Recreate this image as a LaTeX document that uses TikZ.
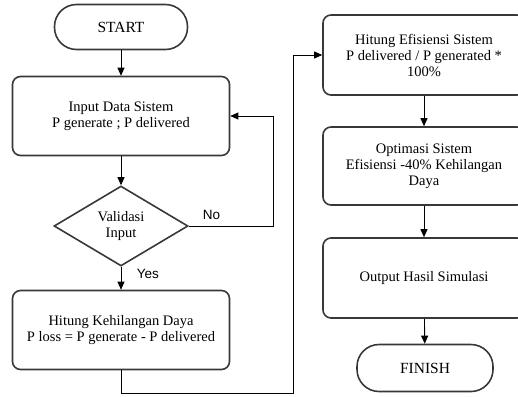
\documentclass[tikz,border=0pt]{standalone}
\usepackage{fontspec}
\setmainfont{Liberation Serif}
\newfontfamily\labelfont{Liberation Sans}
\usetikzlibrary{shapes.geometric,arrows.meta}

\begin{document}
\begin{tikzpicture}[x=1pt,y=-1pt,
    proses/.style={draw=black!78,line width=1.6pt,rounded corners=8pt,
        minimum width=217pt,minimum height=79pt,align=center,
        font=\fontsize{14.5}{16}\selectfont},
    prosesb/.style={proses,minimum width=202pt},
    terminal/.style={draw=black!78,line width=1.6pt,rounded corners=22pt,
        minimum width=133pt,minimum height=45pt,font=\fontsize{15.5}{17}\selectfont},
    keputusan/.style={diamond,draw=black!78,line width=1.6pt,
        minimum width=134pt,minimum height=80pt,inner sep=0pt,align=center,
        font=\fontsize{14.5}{16}\selectfont},
    panah/.style={draw=black,line width=0.9pt,-{Triangle[length=8pt,width=7pt]}},
    ket/.style={font=\labelfont\fontsize{13.5}{15}\selectfont}]
    \useasboundingbox (0,0) rectangle (518,396);
    \clip (0,0) rectangle (518,396);

    \node[terminal] (start) at (121,27) {START};
    \node[proses] (input) at (121,116) {Input Data Sistem\\P generate ; P delivered};
    \node[keputusan] (valid) at (121,226) {Validasi\\Input};
    \node[proses] (hilang) at (121,330) {Hitung Kehilangan Daya\\P loss = P generate - P delivered};

    \node[prosesb,minimum height=80pt] (efisiensi) at (424,55) {Hitung Efisiensi Sistem\\P delivered / P generated *\\100\%};
    \node[prosesb,minimum height=78pt] (optimasi) at (424,166) {Optimasi Sistem\\Efisiensi -40\% Kehilangan\\Daya};
    \node[prosesb,minimum height=80pt] (output) at (424,278) {Output Hasil Simulasi};
    \node[terminal,minimum width=136pt,minimum height=47pt] (finish) at (425,368) {FINISH};

    \coordinate (noloop) at (273,226);
    \coordinate (bawah) at (293,393);

    \draw[panah] (start) -- (input);
    \draw[panah] (input) -- (valid);
    \draw[panah] (valid) -- node[ket,pos=0.3,anchor=west,xshift=12pt]{Yes} (hilang);
    \draw[panah] (valid.east) -- node[ket,pos=0.27,above,yshift=3pt]{No} (noloop) |- (input.east);
    \draw[panah] (hilang.south) |- (bawah) |- (efisiensi.west);
    \draw[panah] (efisiensi) -- (optimasi);
    \draw[panah] (optimasi) -- (output);
    \draw[panah] (output) -- (finish);
\end{tikzpicture}
\end{document}
